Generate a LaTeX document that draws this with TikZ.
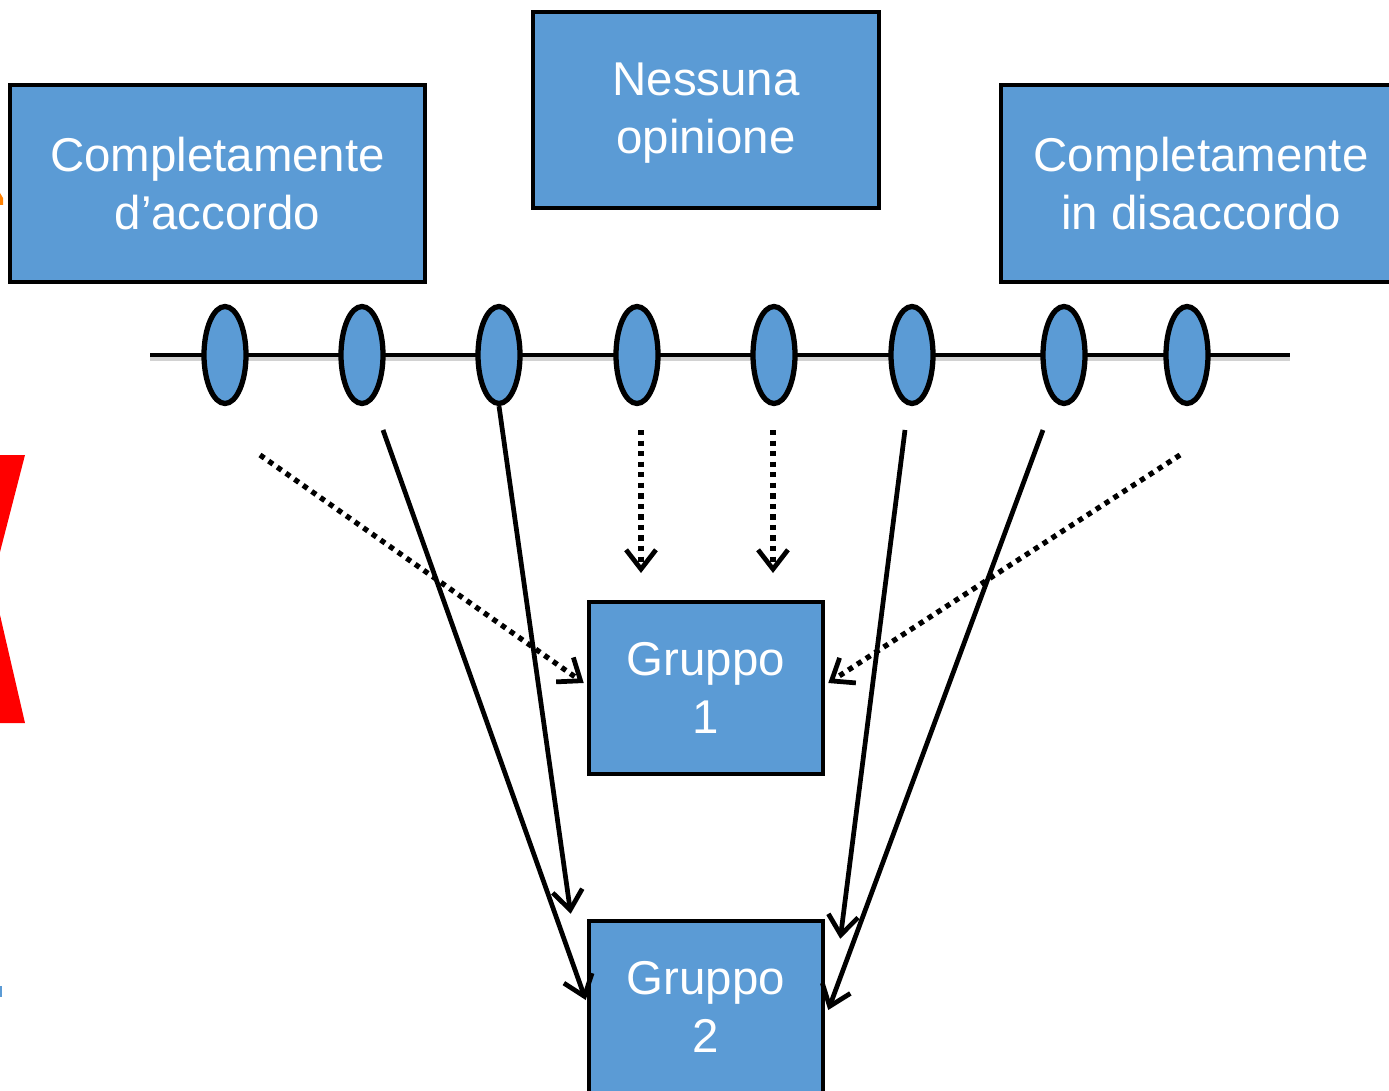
\documentclass[tikz,border=0pt]{standalone}
\usepackage{fontspec}
\setmainfont{Liberation Sans}
\usetikzlibrary{arrows.meta,shapes.geometric,calc}
\definecolor{boxblu}{HTML}{5B9BD5}
\begin{document}
\begin{tikzpicture}[
  x=0.02cm, y=-0.02cm,
  font=\fontsize{27}{33}\selectfont,
  box/.style={draw, line width=2.6pt, fill=boxblu, text=white,
              align=center, inner sep=0pt},
  testo/.style={text=white, align=center, inner sep=0pt},
  scala/.style={draw, line width=3pt, fill=boxblu, ellipse,
                minimum width=0.84cm, minimum height=1.94cm, inner sep=0pt},
  freccia/.style={line width=2.7pt, -{Straight Barb[length=11pt,width=17pt,line width=2.7pt]}},
  puntini/.style={freccia, line width=3pt, dash pattern=on 3pt off 3pt}
]
\useasboundingbox (0,0) rectangle (1389,1091);
\clip (0,0) rectangle (1389,1091);

% frammenti al bordo sinistro
\fill[red] (0,455) -- (25,455) -- (0,552) -- cycle;
\fill[red] (0,615) -- (25,723) -- (0,723) -- cycle;
\fill[orange] (0,193) -- (3,198) -- (3,205) -- (0,205) -- cycle;
\fill[boxblu] (0,986) rectangle (2,997);

% ====================== RISPOSTE ======================
\node[box, minimum width=8.3cm, minimum height=3.94cm] (accordo) at (217.5,183.5)
  {Completamente\\d'accordo};
\node[box, minimum width=6.92cm, minimum height=3.92cm] (neutro) at (706,110) {};
\node[testo] (neutro testo) at ($(neutro)+(0,3)$) {Nessuna\\opinione};
\node[box, minimum width=8cm, minimum height=3.94cm] (disaccordo) at (1201,183.5)
  {Completamente\\in disaccordo};

% ====================== SCALA ======================
\coordinate (sx) at (150,355);
\coordinate (dx) at (1290,355);
\draw[gray!35, line width=2pt] ($(sx)+(0,4)$) -- ($(dx)+(0,4)$);
\draw[line width=2.4pt] (sx) -- (dx);
\foreach \n/\x in {1/225, 2/362, 3/499, 4/637, 5/774, 6/912, 7/1064, 8/1187}
  \node[scala] (p\n) at (\x,355) {};

% ====================== GRUPPI ======================
\node[box, minimum width=4.68cm, minimum height=3.44cm] (g1) at (706,688)
  {Gruppo\\1};
\node[box, minimum width=4.68cm, minimum height=3.44cm] (g2) at (706,1007)
  {Gruppo\\2};

% ====================== FRECCE ======================
\coordinate (a1) at (260,455);
\coordinate (a2) at (383,430);
\coordinate (a4) at (641,430);
\coordinate (a5) at (773,430);
\coordinate (a6) at (905,430);
\coordinate (a7) at (1043,430);
\coordinate (a8) at (1180,455);
\coordinate (t4) at (641,573);
\coordinate (t5) at (773,573);

\draw[puntini] (a1) -- ($(g1.west)+(-3,-5)$);
\draw[puntini] (a4) -- (t4);
\draw[puntini] (a5) -- (t5);
\draw[puntini] (a8) -- ($(g1.east)+(3,-5)$);

\draw[freccia] (a2) -- ($(g2.west)+(-1,-7)$);
\draw[freccia] (p3.south) -- ($(g2.north west)+(-16,-5)$);
\draw[freccia] (a6) -- ($(g2.north east)+(15,20)$);
\draw[freccia] (a7) -- ($(g2.east)+(3,3)$);

\end{tikzpicture}
\end{document}
